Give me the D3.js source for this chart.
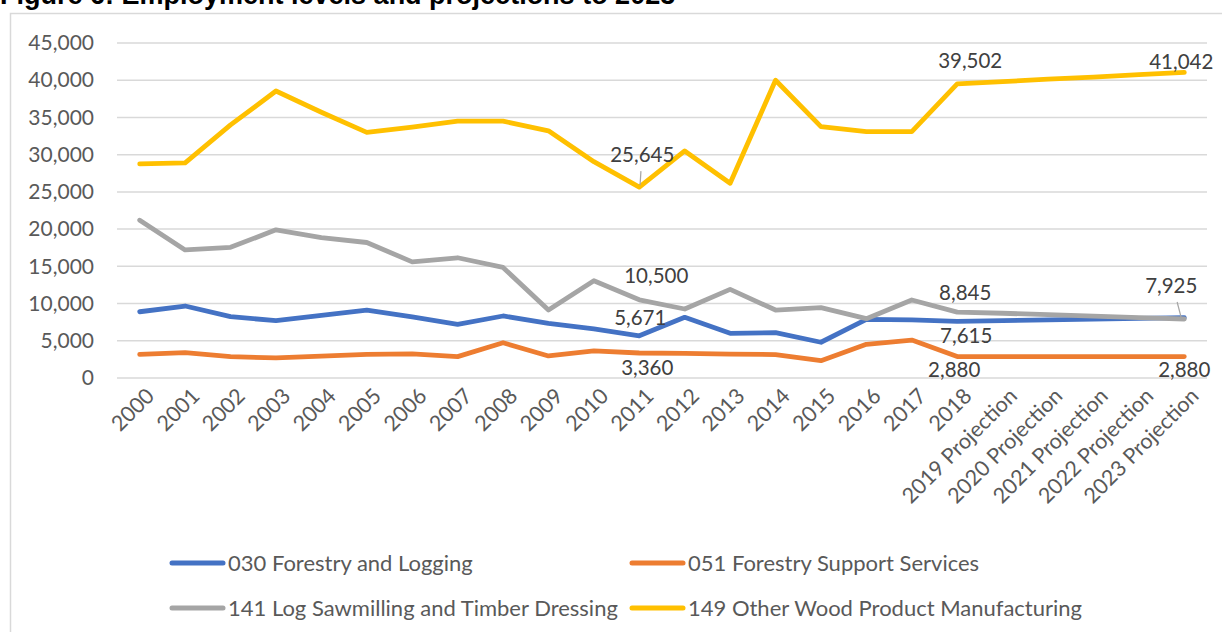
<!DOCTYPE html>
<html>
<head>
<meta charset="utf-8">
<script src="https://cdn.jsdelivr.net/npm/d3@7"></script>
<style>
  body { margin: 0; background: #fff; }
  svg { display: block; }
  text { font-family: Lato, "Open Sans", sans-serif; }
  text.title { font-family: "Liberation Sans", Arial, sans-serif; font-weight: bold; }
</style>
</head>
<body>
<svg id="chart" width="1222" height="632"></svg>
<script>
'use strict';

// categories on the x axis
var categories = ['2000', '2001', '2002', '2003', '2004', '2005', '2006', '2007', '2008', '2009',
  '2010', '2011', '2012', '2013', '2014', '2015', '2016', '2017', '2018',
  '2019 Projection', '2020 Projection', '2021 Projection', '2022 Projection', '2023 Projection'];

// series values
var forestryLogging = [8900, 9670, 8240, 7700, 8400, 9130, 8200, 7200, 8330, 7340,
  6600, 5671, 8150, 6000, 6090, 4800, 7880, 7800, 7615,
  7700, 7800, 7900, 8000, 8100];
var forestrySupport = [3180, 3400, 2870, 2690, 2950, 3180, 3250, 2870, 4740, 2960,
  3630, 3360, 3300, 3200, 3150, 2330, 4520, 5100, 2880,
  2880, 2880, 2880, 2880, 2880];
var logSawmilling = [21200, 17200, 17550, 19900, 18850, 18200, 15600, 16150, 14850, 9130,
  13070, 10500, 9270, 11900, 9130, 9450, 7970, 10480, 8845,
  8700, 8500, 8300, 8100, 7925];
var otherWood = [28750, 28900, 34000, 38550, 35700, 33000, 33700, 34500, 34500, 33200,
  29060, 25645, 30500, 26150, 40000, 33760, 33100, 33100, 39502,
  39800, 40150, 40420, 40740, 41042];

var seriesNames = ['030 Forestry and Logging', '051 Forestry Support Services',
  '141 Log Sawmilling and Timber Dressing', '149 Other Wood Product Manufacturing'];
var seriesColors = ['#4472c4', '#ed7d31', '#a5a5a5', '#ffc000'];
var yTicks = [0, 5000, 10000, 15000, 20000, 25000, 30000, 35000, 40000, 45000];

var series = [forestryLogging, forestrySupport, logSawmilling, otherWood].map(function (values, i) {
  return { name: seriesNames[i], color: seriesColors[i], values: values };
});

// data labels: series index, category index, offset from the point
var dataLabels = [
  { s: 3, i: 11, dx: 3, dy: -32, leader: true },
  { s: 2, i: 11, dx: 17, dy: -24 },
  { s: 0, i: 11, dx: 1, dy: -18 },
  { s: 1, i: 11, dx: 8, dy: 15 },
  { s: 3, i: 18, dx: 13, dy: -23 },
  { s: 2, i: 18, dx: 8, dy: -19 },
  { s: 0, i: 18, dx: 9, dy: 15 },
  { s: 1, i: 18, dx: -3, dy: 13 },
  { s: 3, i: 23, dx: -3, dy: -11 },
  { s: 2, i: 23, dx: -13, dy: -33, leader: true },
  { s: 1, i: 23, dx: 0, dy: 13 }
];

var svg = d3.select('#chart');
var fmt = d3.format(',');

var plot = { left: 117, right: 1207, top: 43, bottom: 378 };

var x = d3.scalePoint()
  .domain(categories)
  .range([plot.left, plot.right])
  .padding(0.5);

var y = d3.scaleLinear()
  .domain([0, 45000])
  .range([plot.bottom, plot.top]);

// title, cut off by the top of the picture
svg.append('text')
  .attr('class', 'title')
  .attr('x', 0)
  .attr('y', 4)
  .attr('font-size', 27)
  .attr('fill', '#000')
  .text('Figure 6: Employment levels and projections to 2023');

// chart frame
svg.append('rect')
  .attr('x', 10.5)
  .attr('y', 13.5)
  .attr('width', 1230)
  .attr('height', 640)
  .attr('fill', 'none')
  .attr('stroke', '#d9d9d9')
  .attr('stroke-width', 1.5);

// gridlines
svg.append('g')
  .selectAll('line')
  .data(yTicks)
  .join('line')
  .attr('x1', plot.left)
  .attr('x2', plot.right)
  .attr('y1', function (d) { return y(d); })
  .attr('y2', function (d) { return y(d); })
  .attr('stroke', '#d9d9d9')
  .attr('stroke-width', 1.5);

// y axis labels
var yAxis = svg.append('g')
  .attr('transform', 'translate(' + (plot.left - 23) + ',0)')
  .call(d3.axisLeft(y).tickValues(yTicks).tickFormat(fmt).tickSize(0).tickPadding(0));
yAxis.select('.domain').remove();
yAxis.selectAll('text')
  .attr('font-family', null)
  .attr('font-size', 21)
  .attr('fill', '#595959');

// x axis labels, rotated
var xAxis = svg.append('g')
  .attr('transform', 'translate(0,' + (plot.bottom + 14) + ')')
  .call(d3.axisBottom(x).tickSize(0).tickPadding(0));
xAxis.select('.domain').remove();
xAxis.selectAll('text')
  .attr('font-family', null)
  .attr('font-size', 21.5)
  .attr('fill', '#595959')
  .attr('text-anchor', 'end')
  .attr('dy', '0.35em')
  .attr('transform', 'translate(10,0) rotate(-45)');

// lines
var line = d3.line()
  .x(function (d, i) { return x(categories[i]); })
  .y(function (d) { return y(d); });

svg.append('g')
  .selectAll('path')
  .data(series)
  .join('path')
  .attr('d', function (d) { return line(d.values); })
  .attr('fill', 'none')
  .attr('stroke', function (d) { return d.color; })
  .attr('stroke-width', 4.8)
  .attr('stroke-linejoin', 'round')
  .attr('stroke-linecap', 'round');

// data labels
var labelG = svg.append('g');
dataLabels.forEach(function (l) {
  var v = series[l.s].values[l.i];
  var px = x(categories[l.i]);
  var py = y(v);
  if (l.leader) {
    labelG.append('line')
      .attr('x1', px + l.dx * 0.25)
      .attr('y1', py - 2)
      .attr('x2', px + l.dx * 0.55)
      .attr('y2', py + l.dy + 16)
      .attr('stroke', '#a6a6a6')
      .attr('stroke-width', 1.2);
  }
  labelG.append('text')
    .attr('x', px + l.dx)
    .attr('y', py + l.dy)
    .attr('dy', '0.35em')
    .attr('text-anchor', 'middle')
    .attr('font-size', 20.5)
    .attr('fill', '#404040')
    .text(fmt(v));
});

// legend, two rows of two
var legendCols = [170, 630];
var legendRows = [563, 608];
var legend = svg.append('g');
series.forEach(function (s, i) {
  var lx = legendCols[i % 2];
  var ly = legendRows[Math.floor(i / 2)];
  legend.append('line')
    .attr('x1', lx + 2)
    .attr('x2', lx + 53)
    .attr('y1', ly)
    .attr('y2', ly)
    .attr('stroke', s.color)
    .attr('stroke-width', 5)
    .attr('stroke-linecap', 'round');
  legend.append('text')
    .attr('x', lx + 58)
    .attr('y', ly)
    .attr('dy', '0.35em')
    .attr('font-size', 22)
    .attr('fill', '#595959')
    .text(s.name);
});
</script>
</body>
</html>
